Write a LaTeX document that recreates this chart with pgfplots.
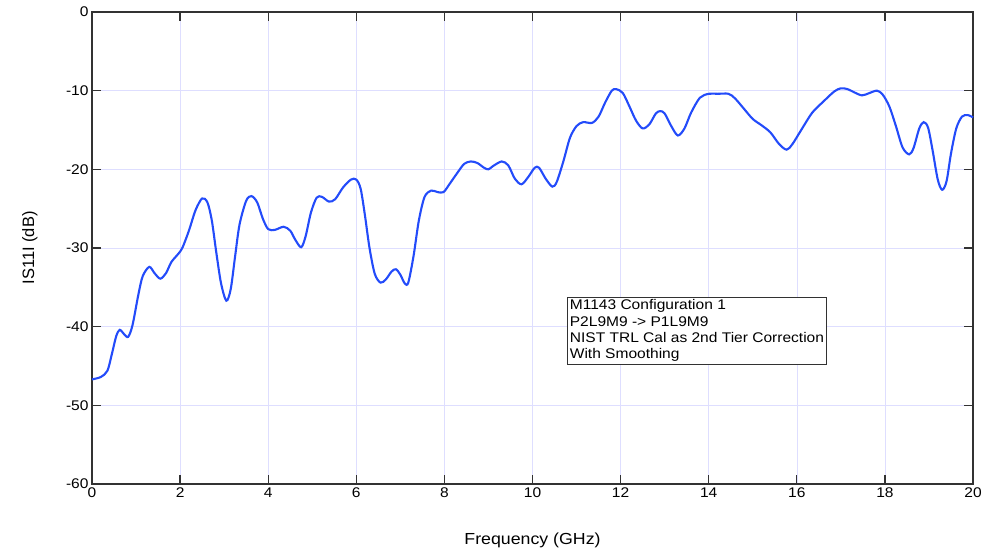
\documentclass[border=0pt]{standalone}
\usepackage{fontspec}
\setmainfont{Liberation Sans}
\newfontfamily\wideFont[FakeStretch=1.11]{Liberation Sans}
\usepackage{pgfplots}
\pgfplotsset{compat=1.18}
\definecolor{curve}{RGB}{35,75,250}
\definecolor{gridc}{RGB}{222,222,255}
\definecolor{axc}{RGB}{50,50,50}
\begin{document}
\begin{tikzpicture}
\begin{axis}[
  scale only axis, width=881bp, height=472bp,
  xmin=0, xmax=20, ymin=-60, ymax=0,
  xtick={0,2,...,20}, ytick={-60,-50,...,0},
  grid=major, major grid style={gridc, line width=0.6bp},
  tick align=inside, major tick length=9bp,
  tick style={axc, line width=1.2bp},
  axis line style={axc, line width=1.4bp},
  /pgf/number format/assume math mode=true,
  ticklabel style={font=\wideFont\fontsize{14bp}{16bp}\selectfont},
  xlabel={Frequency (GHz)}, ylabel={IS11I (dB)},
  xlabel style={font=\wideFont\fontsize{16bp}{18bp}\selectfont, at={(axis description cs:0.5,-0.1186)}, anchor=center},
  ylabel style={font=\fontsize{16.5bp}{18bp}\selectfont, at={(axis description cs:-0.0704,0.5)}, anchor=center},
  clip=false,
]
\addplot[curve, line width=2.1bp, smooth, tension=0.5] coordinates {
(0,-46.7) (0.2,-46.4) (0.35,-45.6) (0.45,-43.5) (0.55,-41.2) (0.63,-40.4) (0.72,-40.9) (0.82,-41.3) (0.92,-39.8)
(1.05,-36) (1.15,-33.6) (1.3,-32.4) (1.42,-33.2) (1.55,-33.9) (1.68,-33.2) (1.8,-31.8) (1.95,-30.8)
(2.05,-30) (2.2,-27.8) (2.35,-25.2) (2.5,-23.7) (2.62,-24.2) (2.72,-26.5) (2.82,-30.5) (2.93,-34.5)
(3.05,-36.7) (3.15,-35.2) (3.25,-31) (3.35,-27) (3.5,-24) (3.62,-23.4) (3.75,-24.2) (3.88,-26.3)
(4.0,-27.6) (4.15,-27.7) (4.35,-27.3) (4.5,-27.8) (4.62,-29) (4.75,-29.9) (4.85,-28.5) (4.97,-25.5)
(5.1,-23.6) (5.22,-23.5) (5.38,-24.1) (5.52,-23.8) (5.7,-22.3) (5.88,-21.3) (6.0,-21.3) (6.1,-22.5)
(6.2,-26) (6.3,-30) (6.42,-33.3) (6.55,-34.4) (6.67,-34) (6.8,-33) (6.9,-32.7) (7.0,-33.4) (7.1,-34.5)
(7.18,-34.4) (7.3,-31) (7.42,-26.5) (7.55,-23.5) (7.7,-22.7) (7.85,-22.9) (7.98,-22.9) (8.1,-22)
(8.3,-20.4) (8.45,-19.3) (8.6,-19) (8.75,-19.2) (8.9,-19.8) (9.0,-20) (9.1,-19.6) (9.3,-19)
(9.45,-19.5) (9.6,-21.2) (9.75,-21.9) (9.9,-21) (10.05,-19.8) (10.15,-19.8) (10.3,-21.2) (10.45,-22.2)
(10.55,-21.6) (10.7,-19) (10.85,-16) (11.0,-14.5) (11.15,-14) (11.35,-14.1) (11.5,-13.3) (11.65,-11.5)
(11.8,-10) (11.9,-9.8) (12.05,-10.3) (12.2,-12) (12.35,-13.8) (12.5,-14.8) (12.65,-14.3) (12.8,-12.9)
(12.9,-12.6) (13.0,-12.9) (13.15,-14.5) (13.3,-15.7) (13.45,-14.8) (13.6,-12.8) (13.8,-10.9) (14.0,-10.4)
(14.2,-10.4) (14.45,-10.4) (14.6,-11) (14.8,-12.3) (15.0,-13.6) (15.2,-14.4) (15.4,-15.3) (15.6,-16.8)
(15.77,-17.5) (15.9,-16.8) (16.1,-15) (16.35,-12.8) (16.6,-11.4) (16.85,-10.1) (17.0,-9.7) (17.15,-9.8)
(17.3,-10.2) (17.48,-10.6) (17.65,-10.3) (17.82,-10) (17.95,-10.5) (18.1,-12) (18.25,-14.5) (18.4,-17.2)
(18.55,-18.1) (18.65,-17.3) (18.78,-14.8) (18.88,-14) (18.98,-14.7) (19.08,-17.5) (19.2,-21.3) (19.3,-22.6)
(19.4,-21.5) (19.5,-18) (19.62,-14.8) (19.75,-13.3) (19.88,-13.1) (20.0,-13.4)
};
\node[draw=axc, line width=1bp, fill=white, anchor=north west, align=left, inner xsep=2.5bp, inner ysep=2.5bp,
  font=\wideFont\fontsize{14bp}{16.3bp}\selectfont] at (axis cs:10.78,-36.2)
  {M1143 Configuration 1\\P2L9M9 -> P1L9M9\\NIST TRL Cal as 2nd Tier Correction\\With Smoothing};
\end{axis}
\pgfresetboundingbox
\path ([shift={(-92bp,-66bp)}]current axis.south west) rectangle ([shift={(10bp,12bp)}]current axis.north east);
\end{tikzpicture}
\end{document}
